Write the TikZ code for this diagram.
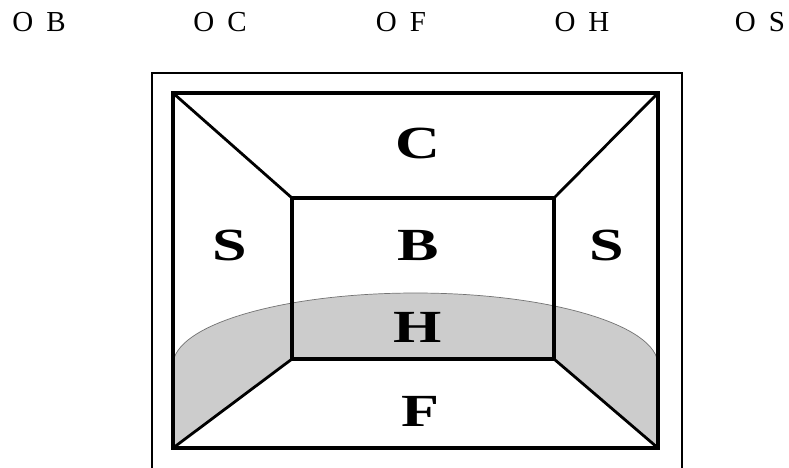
\documentclass[tikz,border=0pt]{standalone}
\usepackage{fontspec}
\setmainfont{Liberation Serif}
\newfontfamily\toplabelfont{Liberation Serif}
\newfontfamily\roomfont{Liberation Serif Bold}[FakeStretch=1.35]
\begin{document}
\begin{tikzpicture}[x=1pt,y=-1pt,
  frameline/.style={line width=2pt,black},
  wallline/.style={line width=3.5pt,black,line join=miter},
  edgeline/.style={line width=2.8pt,black,line cap=round},
  hazefill/.style={fill=black!20},
  hazeedge/.style={draw=black!55,line width=0.7pt},
  toplabel/.style={inner sep=0pt,anchor=center,font={\toplabelfont\fontsize{29}{29}\selectfont\spaceskip=13pt\relax}},
  roomlabel/.style={inner sep=0pt,anchor=center,font={\roomfont\fontsize{46}{46}\selectfont}}]
\useasboundingbox (0,0) rectangle (789,467);
\fill[white] (0,0) rectangle (789,467);

% corners of the room
\coordinate (otl) at (173,93);
\coordinate (otr) at (658,93);
\coordinate (obr) at (658,448);
\coordinate (obl) at (173,448);
\coordinate (itl) at (292,198);
\coordinate (itr) at (554,198);
\coordinate (ibr) at (554,359);
\coordinate (ibl) at (292,359);

% outer frame, open at the bottom
\coordinate (fbl) at (152,468);
\coordinate (ftl) at (152,73);
\coordinate (ftr) at (682,73);
\coordinate (fbr) at (682,468);
\draw[frameline] (fbl) -- (ftl) -- (ftr) -- (fbr);

% shaded layer H
\coordinate (hl) at (173,365);
\path[hazefill] (hl) arc[start angle=180,end angle=360,x radius=242.5,y radius=72]
  -- (obr) -- (ibr) -- (ibl) -- (obl) -- cycle;
\draw[hazeedge] (hl) arc[start angle=180,end angle=360,x radius=242.5,y radius=72];

% walls
\draw[edgeline] (otl) -- (itl);
\draw[edgeline] (otr) -- (itr);
\draw[edgeline] (obr) -- (ibr);
\draw[edgeline] (obl) -- (ibl);
\draw[wallline] (otl) rectangle (obr);
\draw[wallline] (itl) rectangle (ibr);

% room labels
\node[roomlabel] (lc) at (418,143) {C};
\node[roomlabel] (lsl) at (230,245) {S};
\node[roomlabel] (lb) at (418,245) {B};
\node[roomlabel] (lsr) at (607,245) {S};
\node[roomlabel] (lh) at (418,327) {H};
\node[roomlabel] (lf) at (420,411) {F};

% top row
\node[toplabel] (ob) at (39,22) {O B};
\node[toplabel] (oc) at (220,22) {O C};
\node[toplabel] (of) at (401,22) {O F};
\node[toplabel] (oh) at (582,22) {O H};
\node[toplabel] (os) at (760,22) {O S};
\end{tikzpicture}
\end{document}
